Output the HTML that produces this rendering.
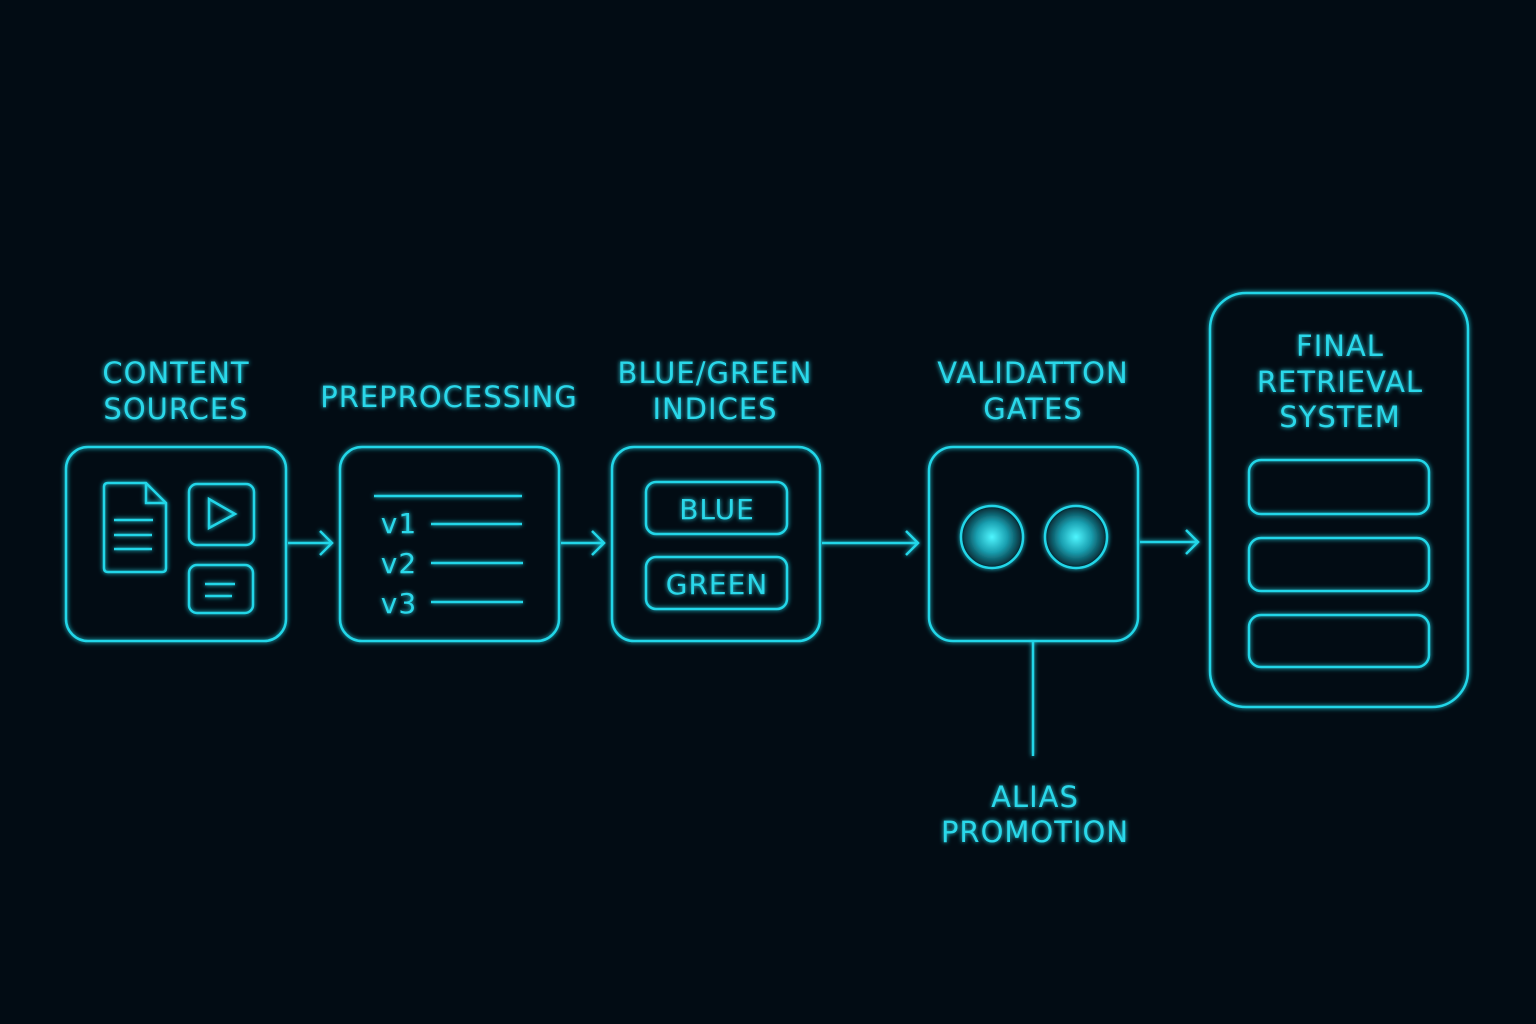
<!DOCTYPE html>
<html><head><meta charset="utf-8"><style>
html,body{margin:0;padding:0;background:#020c14;}
svg{display:block}
text{font-family:"DejaVu Sans","Liberation Sans",sans-serif;fill:#2ad8ea;}
</style></head><body>
<svg width="1536" height="1024" viewBox="0 0 1536 1024" xmlns="http://www.w3.org/2000/svg">
<defs>
<filter id="g" x="-20%" y="-20%" width="140%" height="140%"><feGaussianBlur stdDeviation="2.5" result="b"/><feMerge><feMergeNode in="b"/><feMergeNode in="SourceGraphic"/></feMerge></filter>
<radialGradient id="dot"><stop offset="0" stop-color="#4ff6ff"/><stop offset="0.5" stop-color="#1a9fb0"/><stop offset="1" stop-color="#03222c"/></radialGradient>
</defs>
<rect width="1536" height="1024" fill="#020c14"/>
<g fill="none" stroke="#22d6e8" stroke-width="2.5" filter="url(#g)">
<!-- box1 -->
<rect x="66" y="447" width="220" height="194" rx="22"/>
<path d="M104 487 L104 568 Q104 572 108 572 L162 572 Q166 572 166 568 L166 503 L146 483 L108 483 Q104 483 104 487 Z"/>
<path d="M146 483 L146 503 L166 503"/>
<path d="M114 520 H153 M114 535 H152 M114 549 H152"/>
<rect x="189" y="484" width="65" height="61" rx="8"/>
<path d="M209 499 L209 528 L235 514 Z"/>
<rect x="189" y="565" width="64" height="48" rx="8"/>
<path d="M205 584 H235 M205 596 H232"/>
<path d="M288 543 H332 M320 531 L332 543 L320 555"/>
<!-- box2 -->
<rect x="340" y="447" width="219" height="194" rx="22"/>
<path d="M374 496 H522 M431 524 H522 M431 563 H523 M431 602 H523"/>
<path d="M561 543 H604 M592 531 L604 543 L592 555"/>
<!-- box3 -->
<rect x="612" y="447" width="208" height="194" rx="22"/>
<rect x="646" y="482" width="141" height="52" rx="10"/>
<rect x="646" y="557" width="141" height="52" rx="10"/>
<path d="M822 543 H918 M906 531 L918 543 L906 555"/>
<!-- box4 -->
<rect x="929" y="447" width="209" height="194" rx="24"/>
<circle cx="992" cy="537" r="31" fill="url(#dot)"/>
<circle cx="1076" cy="537" r="31" fill="url(#dot)"/>
<path d="M1140 542 H1198 M1186 530 L1198 542 L1186 554"/>
<path d="M1033 642 V756"/>
<!-- box5 -->
<rect x="1210" y="293" width="258" height="414" rx="36"/>
<rect x="1249" y="460" width="180" height="54" rx="12"/>
<rect x="1249" y="538" width="180" height="53" rx="12"/>
<rect x="1249" y="615" width="180" height="52" rx="12"/>
</g>
<g filter="url(#g)" font-size="29" text-anchor="middle" letter-spacing="1">
<text x="176" y="383">CONTENT</text>
<text x="176" y="419">SOURCES</text>
<text x="449" y="407">PREPROCESSING</text>
<text x="715" y="383">BLUE/GREEN</text>
<text x="715" y="419">INDICES</text>
<text x="1033" y="383">VALIDATTON</text>
<text x="1033" y="419">GATES</text>
<text x="1340" y="356">FINAL</text>
<text x="1340" y="392">RETRIEVAL</text>
<text x="1340" y="427">SYSTEM</text>
<text x="1035" y="807">ALIAS</text>
<text x="1035" y="842">PROMOTION</text>
<text x="717" y="519" font-size="28">BLUE</text>
<text x="717" y="594" font-size="28">GREEN</text>
<text x="399" y="533" font-size="28">v1</text>
<text x="399" y="573" font-size="28">v2</text>
<text x="399" y="613" font-size="28">v3</text>
</g>
</svg>
</body></html>
